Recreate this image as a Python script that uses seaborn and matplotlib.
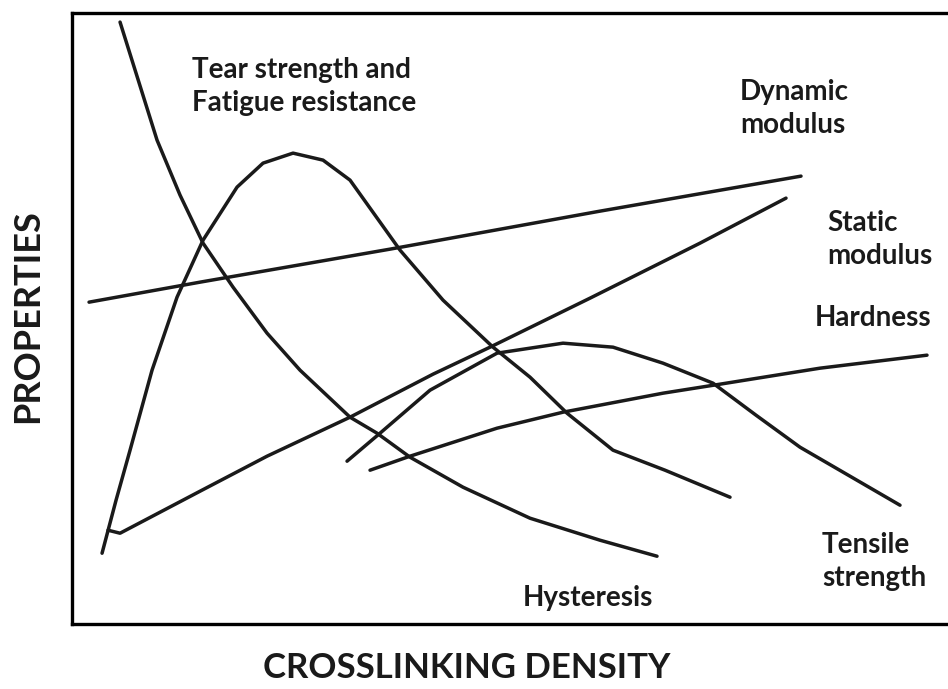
import pandas as pd
import seaborn as sns
import matplotlib.pyplot as plt

# curves (x = crosslinking density, y = property level)
hyst_x = [48, 85, 108, 131, 161, 195, 228, 278, 305, 338, 391, 458, 528, 585]
hyst_y = [602, 484, 429, 381, 337, 291, 254, 207, 191, 167, 137, 106, 84, 68]

tear_x = [30, 44, 58, 80, 105, 131, 165, 191, 221, 251, 278, 328, 371, 421, 458, 495, 541, 593, 658]
tear_y = [71, 124, 174, 254, 327, 384, 437, 461, 471, 464, 444, 374, 324, 277, 247, 211, 174, 154, 127]

dyn_x = [17, 128, 318, 528, 729]
dyn_y = [322, 342, 375, 413, 448]

stat_x = [36, 48, 128, 195, 278, 361, 418, 518, 628, 714]
stat_y = [94, 91, 133, 168, 207, 250, 277, 326, 381, 426]

tens_x = [275, 308, 358, 425, 491, 541, 591, 641, 684, 728, 828]
tens_y = [163, 191, 234, 271, 281, 277, 261, 241, 209, 177, 119]

hard_x = [298, 338, 425, 491, 591, 648, 748, 855]
hard_y = [154, 168, 196, 212, 231, 240, 256, 269]

labels = ["Tear strength and\nFatigue resistance", "Dynamic\nmodulus", "Static\nmodulus",
          "Hardness", "Tensile\nstrength", "Hysteresis"]
label_x = [120, 668, 755, 743, 750, 451]
label_y = [567, 545, 414, 319, 92, 39]

curves = {
    "Hysteresis": (hyst_x, hyst_y),
    "Tear": (tear_x, tear_y),
    "Dynamic": (dyn_x, dyn_y),
    "Static": (stat_x, stat_y),
    "Tensile": (tens_x, tens_y),
    "Hardness": (hard_x, hard_y),
}
rows = []
for name, (xs, ys) in curves.items():
    for x, y in zip(xs, ys):
        rows.append({"curve": name, "x": x, "y": y})
df = pd.DataFrame(rows)

sns.set_style("white")
plt.rcParams["font.family"] = ["Lato", "DejaVu Sans"]

fig = plt.figure(figsize=(9.48, 6.89), dpi=100)
ax = fig.add_axes([0.076, 0.094, 0.924, 0.887])

sns.lineplot(data=df, x="x", y="y", units="curve", estimator=None, sort=False,
             color="#1a1a1a", linewidth=2.5, ax=ax,
             solid_joinstyle="round", solid_capstyle="round")

for t, x, y in zip(labels, label_x, label_y):
    ax.text(x, y, t, ha="left", va="top", fontsize=20, fontweight="bold",
            color="#1a1a1a", linespacing=1.34)

ax.set_xlim(0, 876)
ax.set_ylim(0, 611)
ax.set_xticks([])
ax.set_yticks([])
ax.spines["right"].set_visible(False)
for s in ["left", "top", "bottom"]:
    ax.spines[s].set_linewidth(2.4)
    ax.spines[s].set_color("black")

ax.set_xlabel("CROSSLINKING DENSITY", fontsize=25, fontweight="bold", color="#1a1a1a")
ax.set_ylabel("PROPERTIES", fontsize=26, fontweight="bold", color="#1a1a1a")
ax.xaxis.set_label_coords(0.450, -0.072)
ax.xaxis.label.set_va("center")
ax.yaxis.set_label_coords(-0.051, 0.504)
ax.yaxis.label.set_va("center")

plt.savefig("out.png", dpi=100)
